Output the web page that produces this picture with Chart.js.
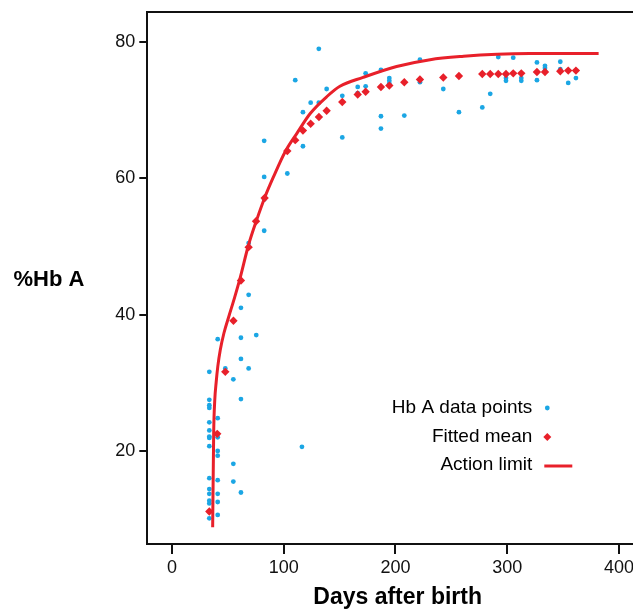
<!DOCTYPE html>
<html>
<head>
<meta charset="utf-8">
<script src="https://cdn.jsdelivr.net/npm/chart.js@4.4.1/dist/chart.umd.min.js"></script>
<style>
html, body { margin: 0; padding: 0; background: #fff; overflow: hidden; }
#hb-wrap { position: relative; width: 668px; height: 613px; }
</style>
</head>
<body>
<div id="hb-wrap"><canvas id="hb-graph"></canvas></div>
<script>
// Hb A measurements (days after birth, %Hb A)
const hbDays = [
	33.4, 33.4, 33.4, 33.4, 33.4, 33.4, 33.4, 33.4, 33.4, 33.4, 33.4, 33.4, 33.4, 33.4, 33.4, 33.4,
	40.9, 40.9, 40.9, 40.9, 40.9, 40.9, 40.9, 40.9, 40.9,
	47.7,
	54.9, 54.9, 54.9,
	61.7, 61.7, 61.7, 61.7, 61.7,
	68.6, 68.6, 68.6,
	75.4,
	82.5, 82.5, 82.5, 82.5,
	103.2, 110.3, 116.3, 117.2, 117.2, 124.1, 131.4, 131.4, 138.4,
	152.4, 152.4, 166.2, 166.2, 173.3, 173.3,
	187.0, 187.0, 187.0, 194.5, 194.5, 194.5, 207.9, 221.9, 221.9,
	242.8, 256.8, 277.7, 284.8, 292.0, 298.9, 298.9, 305.4, 312.6, 312.6,
	326.6, 326.6, 333.8, 333.8, 333.8, 347.5, 347.5, 354.6, 361.5
];
const hbValues = [
	10.1, 11.1, 12.3, 12.7, 13.7, 14.4, 16.0, 20.7, 21.9, 22.1, 23.0, 24.2, 26.3, 26.7, 27.5, 31.6,
	10.6, 12.5, 13.7, 15.7, 19.3, 20.0, 22.0, 24.8, 36.4,
	32.1,
	15.5, 18.1, 30.5,
	13.9, 27.6, 33.5, 36.6, 41.0,
	32.1, 42.9, 50.5,
	37.0,
	52.3, 56.9, 60.2, 65.5,
	60.7, 74.4, 20.6, 64.7, 69.7, 71.1, 71.1, 79.0, 73.1,
	66.0, 72.1, 72.5, 73.4, 73.5, 75.4,
	67.3, 69.1, 75.9, 73.9, 74.3, 74.7, 69.2, 74.1, 77.4,
	73.1, 69.7, 70.4, 72.4, 77.8, 74.3, 74.7, 77.7, 74.3, 74.7,
	74.4, 77.0, 75.8, 76.2, 76.5, 76.0, 77.1, 74.0, 74.7
];

// fitted mean
const meanDays = [33.4, 40.5, 47.7, 55.0, 61.7, 68.6, 75.2, 82.9, 103.2, 110.3, 117.2, 124.1, 131.5, 138.4, 152.4, 166.2, 173.3,
	187.0, 194.5, 207.9, 221.9, 242.8, 256.8, 277.7, 284.8, 292.0, 298.9, 305.4, 312.6, 326.6, 333.8, 347.5, 354.6, 361.5];
const meanValues = [11.1, 22.5, 31.6, 39.1, 45.0, 49.9, 53.7, 57.1, 64.0, 65.6, 67.0, 68.0, 69.0, 69.9, 71.2, 72.3, 72.7,
	73.4, 73.6, 74.1, 74.5, 74.8, 75.0, 75.3, 75.3, 75.3, 75.3, 75.4, 75.4, 75.6, 75.6, 75.7, 75.8, 75.8];

// action limit curve
const limitDays = [36.4, 37.3, 38.3, 39.5, 41.0, 43.2, 46.5, 51.0, 56.0, 61.0, 68.3, 75.8, 83.3, 90.8, 101.3, 111.8,
	123.7, 138.7, 150.3, 171.0, 201.0, 231.0, 261.0, 291.0, 320.0, 350.0, 381.8];
const limitValues = [8.8, 22.6, 27.5, 30.0, 32.4, 34.8, 37.3, 39.8, 42.5, 45.4, 50.1, 53.9, 57.3, 60.2, 63.9, 66.6,
	69.5, 72.0, 73.5, 74.8, 76.4, 77.4, 77.9, 78.2, 78.3, 78.3, 78.3];

const xTicks = [0, 100, 200, 300, 400];
const yTicks = [20, 40, 60, 80];

const blue = '#1ba6e4';
const red = '#e8202a';
const fontFamily = '"Liberation Sans", Arial, sans-serif';

const toPoints = (xs, ys) => xs.map((x, i) => ({ x: x, y: ys[i] }));

// y title is horizontal, so draw it ourselves; same for the right-aligned legend
const extrasPlugin = {
	id: 'extras',
	afterDraw(chart) {
		const ctx = chart.ctx;
		const area = chart.chartArea;
		ctx.save();

		// top frame line
		ctx.strokeStyle = '#111';
		ctx.lineWidth = 2;
		ctx.beginPath();
		ctx.moveTo(area.left, area.top);
		ctx.lineTo(area.right, area.top);
		ctx.lineTo(area.right, area.bottom);
		ctx.stroke();

		ctx.fillStyle = '#000';
		ctx.font = 'bold 22px ' + fontFamily;
		ctx.textAlign = 'center';
		ctx.textBaseline = 'middle';
		ctx.fillText('%Hb A', 49, 280);

		// legend
		const textRight = area.left + 385;
		const markX = textRight + 15;
		const rows = [408, 437, 465];
		ctx.font = '19px ' + fontFamily;
		ctx.textAlign = 'right';
		chart.data.datasets.slice().sort((a, b) => a.legendIndex - b.legendIndex).forEach((ds, i) => {
			const y = rows[i];
			ctx.fillStyle = '#000';
			ctx.fillText(ds.label, textRight, y);
			ctx.fillStyle = ds.backgroundColor;
			if (ds.showLine) {
				ctx.strokeStyle = ds.borderColor;
				ctx.lineWidth = 3;
				ctx.beginPath();
				ctx.moveTo(markX - 3, y + 1);
				ctx.lineTo(markX + 25, y + 1);
				ctx.stroke();
			} else if (ds.pointStyle === 'rectRot') {
				ctx.beginPath();
				ctx.moveTo(markX, y - 4);
				ctx.lineTo(markX + 4, y);
				ctx.lineTo(markX, y + 4);
				ctx.lineTo(markX - 4, y);
				ctx.closePath();
				ctx.fill();
			} else {
				ctx.beginPath();
				ctx.arc(markX, y, 2.4, 0, Math.PI * 2);
				ctx.fill();
			}
		});
		ctx.restore();
	}
};

function plotGraph() {
	const ctx = document.getElementById('hb-graph').getContext('2d');
	new Chart(ctx, {
		type: 'scatter',
		data: {
			datasets: [
				{
					label: 'Action limit',
					legendIndex: 2,
					data: toPoints(limitDays, limitValues),
					showLine: true,
					borderColor: red,
					backgroundColor: red,
					borderWidth: 3,
					pointRadius: 0,
					cubicInterpolationMode: 'monotone',
					order: 0
				},
				{
					label: 'Fitted mean',
					legendIndex: 1,
					data: toPoints(meanDays, meanValues),
					pointStyle: 'rectRot',
					pointRadius: 4.2,
					borderWidth: 0,
					borderColor: red,
					backgroundColor: red,
					order: 1
				},
				{
					label: 'Hb A data points',
					legendIndex: 0,
					data: toPoints(hbDays, hbValues),
					pointStyle: 'circle',
					pointRadius: 2.4,
					borderWidth: 0,
					borderColor: blue,
					backgroundColor: blue,
					order: 2
				}
			]
		},
		options: {
			responsive: true,
			maintainAspectRatio: false,
			animation: false,
			layout: {
				padding: { left: 0, right: 20, top: 12, bottom: 0 }
			},
			plugins: {
				legend: { display: false },
				tooltip: { enabled: false }
			},
			scales: {
				x: {
					type: 'linear',
					min: -22.1,
					max: 426,
					afterFit: (scale) => {
						scale.height = 69;
						scale.paddingLeft = 0;
						scale.paddingRight = 0;
					},
					afterBuildTicks: (scale) => { scale.ticks = xTicks.map(v => ({ value: v })); },
					border: { display: true, color: '#111', width: 2 },
					grid: { drawOnChartArea: false, color: '#111', lineWidth: 2, tickLength: 10 },
					ticks: {
						color: '#111',
						padding: 3,
						maxRotation: 0,
						font: { family: fontFamily, size: 18 }
					},
					title: {
						display: true,
						text: 'Days after birth',
						color: '#000',
						padding: { top: 0, bottom: 2 },
						font: { family: fontFamily, size: 23, weight: 'bold' }
					}
				},
				y: {
					type: 'linear',
					min: 6.34,
					max: 84.4,
					afterFit: (scale) => {
						scale.width = 147.3;
						scale.paddingTop = 0;
						scale.paddingBottom = 0;
					},
					afterBuildTicks: (scale) => { scale.ticks = yTicks.map(v => ({ value: v })); },
					border: { display: true, color: '#111', width: 2 },
					grid: { drawOnChartArea: false, color: '#111', lineWidth: 2, tickLength: 8 },
					ticks: {
						color: '#111',
						padding: 4,
						font: { family: fontFamily, size: 18 }
					}
				}
			}
		},
		plugins: [extrasPlugin]
	});
}

document.addEventListener('DOMContentLoaded', plotGraph);
</script>
</body>
</html>
